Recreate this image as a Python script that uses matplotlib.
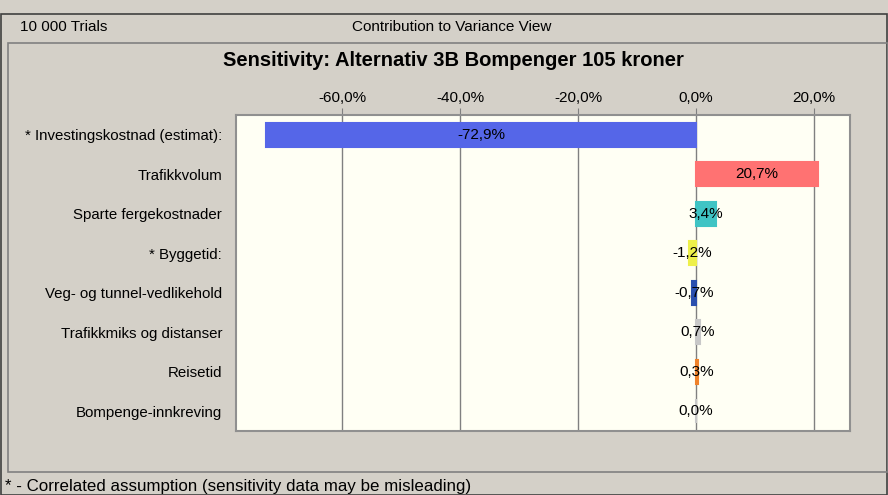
# Sensitivity chart - contribution to variance
import numpy as np
import matplotlib.pyplot as plt
from matplotlib.patches import Rectangle
from matplotlib.ticker import FuncFormatter

plt.rcParams['font.family'] = ['Liberation Sans', 'DejaVu Sans']

# data
labels = ['* Investingskostnad (estimat):', 'Trafikkvolum', 'Sparte fergekostnader',
          '* Byggetid:', 'Veg- og tunnel-vedlikehold', 'Trafikkmiks og distanser',
          'Reisetid', 'Bompenge-innkreving']
values = [-72.9, 20.7, 3.4, -1.2, -0.7, 0.7, 0.3, 0.0]
colors = ['#5566e8', '#ff7272', '#3fc4c4', '#eef04a', '#2a4fae', '#c8c8c8', '#f0822a', '#c8c8c8']
ticks = [-60, -40, -20, 0, 20]

W, H = 888, 495
bg = '#d4d0c8'
fig = plt.figure(figsize=(W / 100, H / 100), dpi=100, facecolor=bg)

def px(x0, y0, x1, y1):
    # pixel box -> figure fraction
    return [x0 / W, 1 - y1 / H, (x1 - x0) / W, (y1 - y0) / H]

# window frame and panel
fig.patches.append(Rectangle((1 / W, 0), (W - 2) / W, 1 - 14 / H, transform=fig.transFigure,
                             fill=False, ec='#404040', lw=1.2))
fig.patches.append(Rectangle((8 / W, 1 - 472 / H), (W - 8) / W, (472 - 43) / H,
                             transform=fig.transFigure, fill=False, ec='#808080', lw=1.2))

fig.text(20 / W, 1 - 27 / H, '10 000 Trials', fontsize=11, va='center', ha='left')
fig.text(452 / W, 1 - 27 / H, 'Contribution to Variance View', fontsize=11, va='center', ha='center')
fig.text(453 / W, 1 - 61 / H, 'Sensitivity: Alternativ 3B Bompenger 105 kroner', fontsize=14.5,
         fontweight='bold', va='center', ha='center')
fig.text(5 / W, 1 - 487 / H, '* - Correlated assumption (sensitivity data may be misleading)',
         fontsize=12.2, va='center', ha='left')

ax = fig.add_axes(px(236, 115, 850, 431))
ax.set_facecolor('#fffff4')

y = np.arange(len(labels))
ax.barh(y, values, height=0.6, color=colors, edgecolor=colors, lw=1.5, zorder=3)
for i, v in enumerate(values):
    ax.text(v / 2, i, f'{v:.1f}%'.replace('.', ','), ha='center', va='center',
            fontsize=11, zorder=4)

ax.set_xlim(-77.97, 26.1)
ax.set_ylim(len(labels) - 0.5, -0.5)
ax.set_xticks(ticks)
ax.xaxis.set_major_formatter(FuncFormatter(lambda v, p: f'{v:.1f}%'.replace('.', ',')))
ax.xaxis.tick_top()
ax.tick_params(axis='x', length=5, color='#808080', labelsize=11, pad=2)
ax.set_yticks(y)
ax.set_yticklabels(labels, fontsize=10.8)
ax.tick_params(axis='y', length=0, pad=10)
ax.grid(axis='x', color='#808080', lw=1, zorder=1)
for s in ax.spines.values():
    s.set_color('#909090')
    s.set_linewidth(1.5)

fig.savefig('out.png', dpi=100, facecolor=bg)
